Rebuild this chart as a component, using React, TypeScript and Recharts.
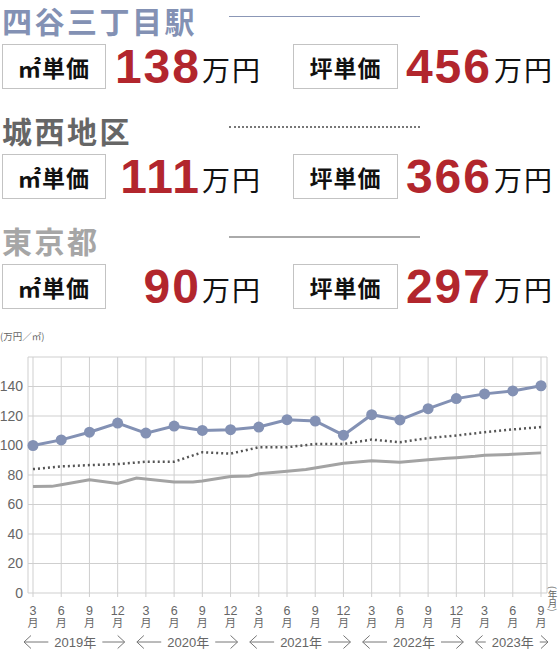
import React from "react";
import { CartesianGrid, Line, LineChart, XAxis, YAxis } from "recharts";

// 2019年3月を0とした月番号
const quarterMonths = [0, 3, 6, 9, 12, 15, 18, 21, 24, 27, 30, 33, 36, 39, 42, 45, 48, 51, 54];
const monthLabels = ["3", "6", "9", "12", "3", "6", "9", "12", "3", "6", "9", "12", "3", "6", "9", "12", "3", "6", "9"];

const yearLabels = ["2019年", "2020年", "2021年", "2022年", "2023年"];
const yearStartMonths = [0, 12, 24, 36, 48];
const yearEndMonths = [9, 21, 33, 45, 54];

// 万円／㎡
const stationValues = [100, 103.8, 109, 115.2, 108.4, 113.2, 110.2, 110.7, 112.5, 117.5, 116.6, 107, 120.9, 117.3, 125, 131.8, 135, 137, 140.5];
const areaValues = [84, 85.8, 86.7, 87.4, 89, 89, 95.4, 94.5, 98.8, 98.8, 101, 101, 104, 102.2, 105, 106.8, 109, 110.9, 112.5];
const tokyoMonths = [0, 2, 3, 6, 9, 11, 15, 17, 18, 21, 23, 24, 27, 29, 33, 36, 39, 42, 44, 45, 47, 48, 51, 54];
const tokyoValues = [72.2, 72.3, 73.4, 76.8, 74.2, 77.9, 75.3, 75.2, 76, 79, 79.4, 80.8, 82.6, 83.8, 87.9, 89.7, 88.6, 90.4, 91.3, 91.7, 92.7, 93.4, 94, 95];

const yTicks = [0, 20, 40, 60, 80, 100, 120, 140, 160];

const summaryNames = ["四谷三丁目駅", "城西地区", "東京都"];
const sqmPrices = ["138", "111", "90"];
const tsuboPrices = ["456", "366", "297"];

const STATION = "#8391b4";
const AREA = "#555";
const TOKYO = "#a3a3a3";
const RED = "#b2262d";
const JP = "'Noto Sans CJK JP', sans-serif";
const NUM = "'Liberation Sans', Arial, 'Noto Sans CJK JP', sans-serif";

const titleColors = [STATION, "#666", "#a6a6a6"];
const ruleStyles = ["1.5px solid #8b97b6", "2px dotted #777", "2px solid #aaa"];

const CHART_W = 559;
const CHART_H = 330;
const MARGIN = { top: 37, right: 12, bottom: 0, left: 0 };
const Y_W = 28;
const PAD = { left: 5, right: 6 };
const PX_PER_MONTH = (CHART_W - MARGIN.right - Y_W - PAD.left - PAD.right) / 54;

const quarterData = quarterMonths.map((m, i) => ({ m, station: stationValues[i], area: areaValues[i] }));
const tokyoData = tokyoMonths.map((m, i) => ({ m, tokyo: tokyoValues[i] }));

function MonthTick(props: any) {
  const { x, y, payload } = props;
  const i = quarterMonths.indexOf(payload.value);
  const yi = yearStartMonths.indexOf(payload.value);
  let year = null;
  if (yi >= 0) {
    const ex = x + (yearEndMonths[yi] - yearStartMonths[yi]) * PX_PER_MONTH;
    const cx = (x + ex) / 2;
    const ay = y + 43;
    const l0 = x - 9;
    const l1 = cx - 27;
    const r0 = cx + 27;
    const r1 = ex + 7;
    year = (
      <g stroke="#777" strokeWidth={1} fill="none">
        <line x1={l0} y1={ay} x2={l1} y2={ay} />
        <polyline points={`${l0 + 7},${ay - 6.5} ${l0},${ay} ${l0 + 7},${ay + 6.5}`} />
        <line x1={r0} y1={ay} x2={r1} y2={ay} />
        <polyline points={`${r1 - 7},${ay - 6.5} ${r1},${ay} ${r1 - 7},${ay + 6.5}`} />
        <text x={cx} y={y + 48} textAnchor="middle" fontSize={13} fill="#666" stroke="none">
          {yearLabels[yi]}
        </text>
      </g>
    );
  }
  return (
    <g>
      <text x={x} y={y + 16} textAnchor="middle" fontSize={12.5} fill="#666">
        {monthLabels[i]}
      </text>
      <text x={x} y={y + 28} textAnchor="middle" fontSize={11} fill="#666" fontFamily={JP}>
        月
      </text>
      {year}
    </g>
  );
}

function Summary({ k }: { k: number }) {
  const top = k * 110;
  const box = (left: number, width: number, label: string) => (
    <div
      style={{
        position: "absolute",
        left,
        top: top + 44,
        width,
        height: 45,
        boxSizing: "border-box",
        border: "1px solid #c3c3c3",
        display: "flex",
        alignItems: "center",
        justifyContent: "center",
        fontFamily: JP,
        fontWeight: 700,
        fontSize: 23,
        letterSpacing: 1,
        color: "#111",
      }}
    >
      {label}
    </div>
  );
  const price = (left: number, width: number, value: string) => (
    <div
      style={{
        position: "absolute",
        left,
        top: top + 43,
        width,
        textAlign: "right",
        fontFamily: NUM,
        fontWeight: 700,
        fontSize: 48,
        lineHeight: "48px",
        letterSpacing: 2,
        color: RED,
      }}
    >
      {value}
    </div>
  );
  const unit = (left: number) => (
    <div
      style={{
        position: "absolute",
        left,
        top: top + 55,
        fontFamily: JP,
        fontSize: 28,
        lineHeight: "28px",
        letterSpacing: 2,
        color: "#111",
      }}
    >
      万円
    </div>
  );
  return (
    <>
      <div
        style={{
          position: "absolute",
          left: 2,
          top: top + 3,
          width: 224,
          fontFamily: JP,
          fontWeight: 700,
          fontSize: 30,
          lineHeight: "34px",
          letterSpacing: 2.5,
          color: titleColors[k],
          whiteSpace: "nowrap",
        }}
      >
        {summaryNames[k]}
      </div>
      <div style={{ position: "absolute", left: 229, top: top + 16, width: 191, borderTop: ruleStyles[k] }} />
      {box(2, 104, "㎡単価")}
      {price(108, 93, sqmPrices[k])}
      {unit(202)}
      {box(293, 105, "坪単価")}
      {price(398, 94, tsuboPrices[k])}
      {unit(494)}
    </>
  );
}

export default function App() {
  return (
    <div style={{ position: "relative", width: 559, height: 650, overflow: "hidden", background: "#fff" }}>
      <style>{"body{margin:0}"}</style>
      <Summary k={0} />
      <Summary k={1} />
      <Summary k={2} />
      <div style={{ position: "absolute", left: 0, top: 329, fontFamily: JP, fontSize: 9.5, color: "#666" }}>(万円／㎡)</div>
      <div
        style={{
          position: "absolute",
          left: 547,
          top: 586,
          writingMode: "vertical-rl",
          fontFamily: JP,
          fontSize: 9.5,
          lineHeight: 1,
          color: "#666",
        }}
      >
        (年月)
      </div>
      <div style={{ position: "absolute", left: 0, top: 320, width: CHART_W, height: CHART_H, fontFamily: NUM }}>
        <LineChart width={CHART_W} height={CHART_H} margin={MARGIN}>
          <CartesianGrid stroke="#cfcfcf" />
          <XAxis
            type="number"
            dataKey="m"
            domain={[0, 54]}
            ticks={quarterMonths}
            interval={0}
            padding={PAD}
            height={57}
            axisLine={false}
            tickLine={{ stroke: "#cfcfcf" }}
            tickSize={4}
            tick={<MonthTick />}
          />
          <YAxis
            type="number"
            domain={[0, 160]}
            ticks={yTicks}
            interval={0}
            width={Y_W}
            axisLine={false}
            tickLine={false}
            tickSize={0}
            tickMargin={5}
            tick={{ fill: "#666", fontSize: 14 }}
            tickFormatter={(v: number) => (v === 160 ? "" : String(v))}
          />
          <Line
            data={tokyoData}
            dataKey="tokyo"
            stroke={TOKYO}
            strokeWidth={3}
            dot={false}
            isAnimationActive={false}
          />
          <Line
            data={quarterData}
            dataKey="area"
            stroke={AREA}
            strokeWidth={2.5}
            strokeDasharray="2 3"
            dot={false}
            isAnimationActive={false}
          />
          <Line
            data={quarterData}
            dataKey="station"
            stroke={STATION}
            strokeWidth={3}
            dot={{ r: 5.5, fill: STATION, stroke: STATION, strokeWidth: 0 }}
            isAnimationActive={false}
          />
        </LineChart>
      </div>
    </div>
  );
}
